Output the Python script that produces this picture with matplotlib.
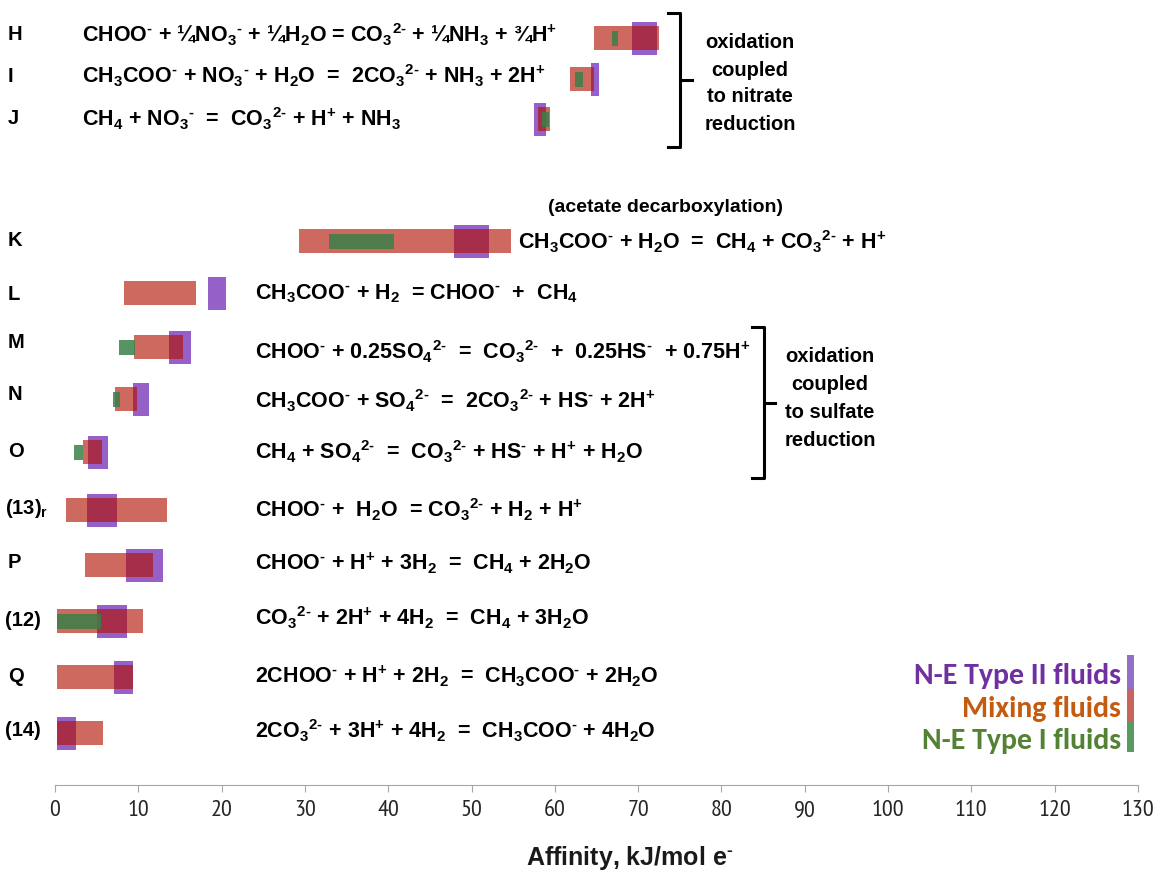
import matplotlib
matplotlib.use("Agg")
import matplotlib.pyplot as plt
from matplotlib import font_manager as fm
from matplotlib.lines import Line2D
from matplotlib.patches import Rectangle

# Rows, top to bottom
rows = ['H', 'I', 'J', 'K', 'L', 'M', 'N', 'O', '(13)$_r$', 'P', '(12)', 'Q', '(14)']

# Affinity ranges (kJ/mol e-), start and end of each bar
typeII_lo = [69.3, 64.3, 57.5, 47.9, 18.4, 13.7, 9.4, 4.0, 3.8, 8.5, 5.0, 7.1, 0.2]
typeII_hi = [72.3, 65.3, 58.9, 52.1, 20.5, 16.3, 11.3, 6.4, 7.4, 13.0, 8.6, 9.4, 2.5]
mixing_lo = [64.7, 61.8, 58.0, 29.3, 8.3, 9.5, 7.2, 3.4, 1.3, 3.6, 0.2, 0.2, 0.2]
mixing_hi = [72.5, 64.7, 59.4, 54.7, 16.9, 15.4, 9.8, 5.6, 13.4, 11.8, 10.6, 9.4, 5.8]
typeI_lo = [66.9, 62.4, 58.5, 32.9, None, 7.7, 7.0, 2.3, None, None, 0.2, None, None]
typeI_hi = [67.6, 63.4, 59.3, 40.7, None, 9.6, 7.8, 3.4, None, None, 5.5, None, None]

m = '\u2010'  # small hyphen used as the charge sign
neg = f"$^{{{m}}}$"
neg2 = f"$^{{2{m}}}$"
pos = "$^{+}$"
reactions = [
    f"CHOO{neg} + ¼NO$_3${neg} + ¼H$_2$O = CO$_3${neg2} + ¼NH$_3$ + ¾H{pos}",
    f"CH$_3$COO{neg} + NO$_3${neg} + H$_2$O  =  2CO$_3${neg2} + NH$_3$ + 2H{pos}",
    f"CH$_4$ + NO$_3${neg}  =  CO$_3${neg2} + H{pos} + NH$_3$",
    f"CH$_3$COO{neg} + H$_2$O  =  CH$_4$ + CO$_3${neg2} + H{pos}",
    f"CH$_3$COO{neg} + H$_2$  = CHOO{neg}  +  CH$_4$",
    f"CHOO{neg} + 0.25SO$_4${neg2}  =  CO$_3${neg2}  +  0.25HS{neg}  + 0.75H{pos}",
    f"CH$_3$COO{neg} + SO$_4${neg2}  =  2CO$_3${neg2} + HS{neg} + 2H{pos}",
    f"CH$_4$ + SO$_4${neg2}  =  CO$_3${neg2} + HS{neg} + H{pos} + H$_2$O",
    f"CHOO{neg} +  H$_2$O  = CO$_3${neg2} + H$_2$ + H{pos}",
    f"CHOO{neg} + H{pos} + 3H$_2$  =  CH$_4$ + 2H$_2$O",
    f"CO$_3${neg2} + 2H{pos} + 4H$_2$  =  CH$_4$ + 3H$_2$O",
    f"2CHOO{neg} + H{pos} + 2H$_2$  =  CH$_3$COO{neg} + 2H$_2$O",
    f"2CO$_3${neg2} + 3H{pos} + 4H$_2$  =  CH$_3$COO{neg} + 4H$_2$O",
]

xticks = list(range(0, 131, 10))


def pick_font(cands, default='DejaVu Sans'):
    for c in cands:
        try:
            fm.findfont(fm.FontProperties(family=c), fallback_to_default=False)
            return c
        except Exception:
            pass
    return default


narrow = pick_font(['Liberation Sans Narrow', 'Arimo Narrow', 'PT Sans Narrow',
                    'Archivo Narrow', 'Roboto Condensed', 'Open Sans Condensed'])
calib = pick_font(['Carlito', 'Lato'])

# layout (pixel rows of the picture)
W, H = 1159, 873
row_y = [38, 79, 119, 241, 293, 347, 399, 452, 510, 565, 621, 677, 733]
label_y = [35, 76, 119, 240, 294, 343, 395, 451, 508, 563, 620, 676, 731]
eq_x = [82, 82, 82, 518, 255, 255, 255, 255, 255, 255, 255, 255, 255]
eq_y = [35, 76, 119, 242, 294, 352, 401, 452, 510, 563, 618, 676, 731]

plt.rcParams['mathtext.fontset'] = 'custom'
plt.rcParams['mathtext.bf'] = 'Liberation Sans:bold'
plt.rcParams['mathtext.rm'] = 'Liberation Sans:bold'
plt.rcParams['mathtext.default'] = 'bf'

fig = plt.figure(figsize=(W / 100, H / 100), dpi=100)
ax = fig.add_axes([55 / W, (H - 785) / H, (1138 - 55) / W, 785 / H])
ax.set_xlim(0, 130)
ax.set_ylim(785, 0)

c_purple = '#9560C8'
c_red = '#B01200'
c_green = '#3A8048'

for i, y in enumerate(row_y):
    ax.barh(y, typeII_hi[i] - typeII_lo[i], left=typeII_lo[i], height=33,
            color=c_purple, zorder=1)
    ax.barh(y, mixing_hi[i] - mixing_lo[i], left=mixing_lo[i], height=24,
            color=c_red, alpha=0.63, zorder=2)
    if typeI_lo[i] is not None:
        ax.barh(y, typeI_hi[i] - typeI_lo[i], left=typeI_lo[i], height=15,
                color=c_green, alpha=0.85, zorder=3)

for s in ['top', 'right', 'left']:
    ax.spines[s].set_visible(False)
ax.spines['bottom'].set_color('#A6A6A6')
ax.set_yticks([])
ax.set_xticks(xticks)
ax.tick_params(axis='x', direction='out', length=5, color='#A6A6A6', pad=6,
               labelsize=17.5, labelcolor='#262626')
for t in ax.get_xticklabels():
    t.set_family(narrow)


def fx(px):
    return px / W


def fy(py):
    return 1 - py / H


txt = dict(fontsize=14.5, fontweight='bold', family='Liberation Sans', color='black')
eq = dict(txt, fontsize=15.5)

for i, lab in enumerate(rows):
    lx = 5 if lab.startswith('(') else 8
    fig.text(fx(lx), fy(label_y[i]), lab, ha='left', va='center', **txt)
    fig.text(fx(eq_x[i]), fy(eq_y[i]), reactions[i], ha='left', va='center', **eq)

fig.text(fx(665), fy(208), "(acetate decarboxylation)", ha='center', va='center',
         fontsize=14, fontweight='bold', family='Liberation Sans')

# group brackets
def bracket(x, x_serif, x_tip, y_top, y_bot, y_mid):
    fig.add_artist(Line2D([fx(x_serif), fx(x), fx(x), fx(x_serif)],
                          [fy(y_top), fy(y_top), fy(y_bot), fy(y_bot)],
                          color='black', lw=2.2, solid_joinstyle='round'))
    fig.add_artist(Line2D([fx(x), fx(x_tip)], [fy(y_mid), fy(y_mid)],
                          color='black', lw=2.2))


bracket(680, 668, 692, 13, 147, 80)
bracket(764, 752, 775, 327, 478, 403)

for line, y in zip(["oxidation", "coupled", "to nitrate", "reduction"], [43, 70, 97, 125]):
    fig.text(fx(750), fy(y), line, ha='center', va='center', **txt)
for line, y in zip(["oxidation", "coupled", "to sulfate", "reduction"], [357, 384, 412, 440]):
    fig.text(fx(830), fy(y), line, ha='center', va='center', **txt)

# legend
leg = [("N-E Type II fluids", '#7030A0', '#9370C8', 676, 655, 689),
       ("Mixing fluids", '#C55A11', '#C8645A', 709, 689, 722),
       ("N-E Type I fluids", '#548235', '#5A9A62', 741, 722, 752)]
for name, tc, bc, ty, y0, y1 in leg:
    fig.text(fx(1121), fy(ty), name, ha='right', va='center', fontsize=21.5,
             fontweight='bold', family=calib, color=tc)
    fig.add_artist(Rectangle((fx(1127), fy(y1)), fx(1134) - fx(1127), fy(y0) - fy(y1),
                             transform=fig.transFigure, color=bc, lw=0))

fig.text(fx(630), fy(858), "Affinity, kJ/mol e$^{\u2010}$", ha='center', va='center',
         fontsize=18, fontweight='bold', family='Liberation Sans', color='#1a1a1a')

fig.savefig("out.png", dpi=100)
